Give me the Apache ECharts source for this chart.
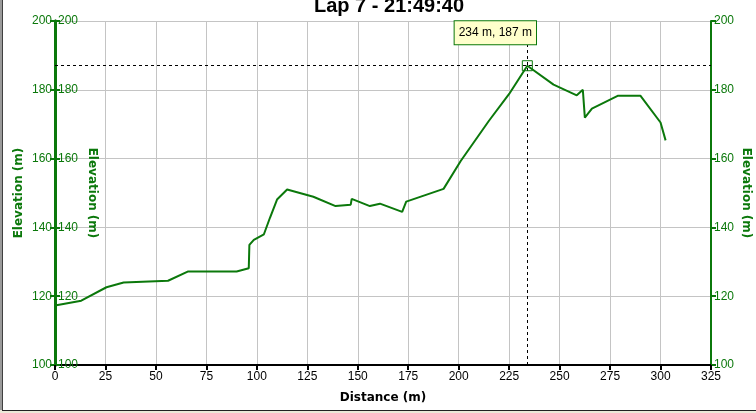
<!DOCTYPE html>
<html>
<head>
<meta charset="utf-8">
<script src="https://cdn.jsdelivr.net/npm/echarts@6/dist/echarts.min.js"></script>
<style>
html,body{margin:0;padding:0;background:#fff;}
#chart{width:756px;height:413px;}
</style>
</head>
<body>
<div id="chart"></div>
<script>
// lap profile
var distance = [0, 13, 25.5, 34, 56, 66, 90, 96, 96.3, 98.5, 103.5, 106.5, 110, 115, 128, 139, 146.5, 147, 156, 161, 172, 174, 192.5, 201, 215, 225, 234, 247, 258.5, 261.5, 262.5, 266, 279, 290, 300, 302.5];
var elevation = [117.3, 118.7, 122.6, 124, 124.5, 127.2, 127.2, 128.1, 134.9, 136.4, 138, 142.8, 148.1, 151, 148.9, 146.2, 146.6, 148.3, 146.2, 146.9, 144.5, 147.5, 151.2, 159.3, 171, 178.8, 187, 181.5, 178.4, 180, 171.9, 174.5, 178.3, 178.3, 170.5, 165.3];
var cursor = [234, 187];
var titleText = 'Lap 7 - 21:49:40';

var green = '#0b780b';
var gridGrey = '#c4c4c4';
var lblFont = 'Liberation Sans';
var nameFont = 'DejaVu Sans';

var points = [];
for (var i = 0; i < distance.length; i++) {
    points.push([distance[i], elevation[i]]);
}

function elevAxis(extra) {
    var ax = {
        type: 'value',
        min: 100,
        max: 200,
        interval: 20,
        name: 'Elevation (m)',
        nameLocation: 'middle',
        nameMoveOverlap: false,
        nameTextStyle: {color: green, fontFamily: nameFont, fontWeight: 'bold', fontSize: 12},
        axisLine: {show: true, lineStyle: {color: green, width: 3}},
        axisTick: {show: true, length: 5, lineStyle: {color: green, width: 2}},
        axisLabel: {color: green, fontFamily: lblFont, fontSize: 12, margin: 3},
        splitLine: {show: false}
    };
    for (var k in extra) {
        if (typeof extra[k] === 'object' && ax[k]) {
            for (var j in extra[k]) ax[k][j] = extra[k][j];
        } else {
            ax[k] = extra[k];
        }
    }
    return ax;
}

var chart = echarts.init(document.getElementById('chart'));
var option = {
    backgroundColor: '#fff',
    animation: false,
    title: {
        text: titleText,
        left: 309,
        top: -9,
        textStyle: {fontFamily: lblFont, fontWeight: 'bold', fontSize: 20, color: '#000'}
    },
    grid: {left: 55, right: 45, top: 21, bottom: 48, containLabel: false, outerBoundsMode: 'none'},
    xAxis: {
        type: 'value',
        min: 0,
        max: 325,
        interval: 25,
        name: 'Distance (m)',
        nameLocation: 'middle',
        nameGap: 27,
        nameMoveOverlap: false,
        nameTextStyle: {color: '#000', fontFamily: nameFont, fontWeight: 'bold', fontSize: 12},
        axisLine: {lineStyle: {color: '#000', width: 2}},
        axisTick: {length: 5, lineStyle: {color: '#000', width: 2}},
        axisLabel: {color: '#000', fontFamily: lblFont, fontSize: 12, margin: 6},
        splitLine: {show: true, lineStyle: {color: gridGrey, width: 1}}
    },
    yAxis: [
        elevAxis({position: 'left', nameGap: 30, nameRotate: 90,
            splitLine: {show: true, lineStyle: {color: gridGrey, width: 1}}}),
        elevAxis({position: 'left', nameGap: -43, nameRotate: -90,
            axisTick: {inside: true}, axisLabel: {inside: true}}),
        elevAxis({position: 'right', nameGap: 29, nameRotate: -90,
            axisLine: {lineStyle: {color: green, width: 2}}})
    ],
    series: [{
        type: 'line',
        data: points,
        yAxisIndex: 0,
        showSymbol: false,
        lineStyle: {color: green, width: 2},
        markLine: {
            silent: true,
            symbol: 'none',
            label: {show: false},
            lineStyle: {color: '#000', width: 1, type: [3, 3]},
            data: [{xAxis: cursor[0]}, {yAxis: cursor[1]}]
        },
        markPoint: {
            silent: true,
            data: [{
                coord: cursor,
                symbol: 'rect',
                symbolSize: 10,
                itemStyle: {color: 'rgba(0,0,0,0)', borderColor: green, borderWidth: 1},
                label: {
                    show: true,
                    formatter: cursor[0] + ' m, ' + cursor[1] + ' m',
                    position: 'inside',
                    offset: [-32, -33],
                    color: '#000',
                    fontFamily: lblFont,
                    fontSize: 12,
                    backgroundColor: '#ffffcc',
                    borderColor: green,
                    borderWidth: 1,
                    padding: [5, 4, 6, 4]
                }
            }]
        }
    }],
    graphic: [
        {type: 'rect', shape: {x: 0, y: 0, width: 2, height: 413}, style: {fill: '#9a9a9a'}, silent: true},
        {type: 'line', shape: {x1: 2.5, y1: 0, x2: 2.5, y2: 410}, style: {stroke: '#404040', lineWidth: 1}, silent: true},
        {type: 'rect', shape: {x: 0, y: 410, width: 756, height: 3}, style: {fill: '#ece9d8'}, silent: true},
        {type: 'line', shape: {x1: 2, y1: 410.5, x2: 756, y2: 410.5}, style: {stroke: '#222', lineWidth: 1}, silent: true}
    ]
};
chart.setOption(option);
</script>
</body>
</html>
